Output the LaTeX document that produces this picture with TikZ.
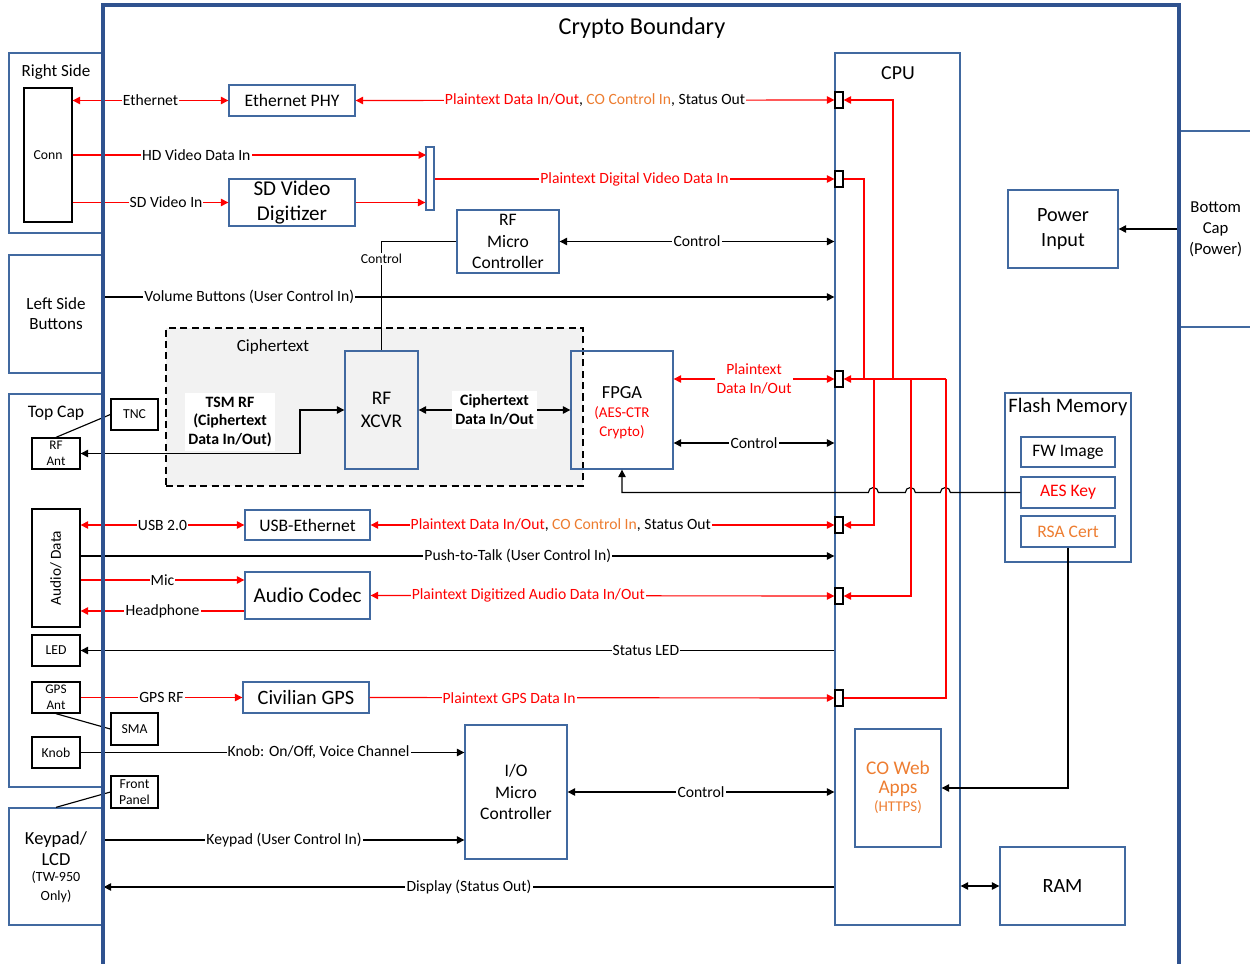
\documentclass[tikz,border=0pt]{standalone}
\usepackage{fontspec}
\setmainfont{Carlito}
\usetikzlibrary{arrows.meta,positioning}

\definecolor{boxblue}{RGB}{65,105,160}
\definecolor{bndblue}{RGB}{47,82,143}
\definecolor{coorange}{RGB}{237,125,49}
\definecolor{ciphgray}{RGB}{242,242,242}

\newcommand{\fsz}[2]{\fontsize{#1}{#2}\selectfont}

\tikzset{
  box/.style={draw=boxblue, line width=0.75pt, inner sep=1pt, align=center},
  sbox/.style={draw=black, line width=0.75pt, inner sep=1pt, align=center, font=\fsz{7.8}{9}},
  port/.style={draw=black, fill=white, line width=0.7pt, minimum width=0.16cm, minimum height=0.32cm, inner sep=0pt},
  sz/.style 2 args={minimum width=#1*0.02cm, minimum height=#2*0.02cm},
  lbl/.style={fill=white, inner sep=0.6pt, text=black, font=\fsz{8.9}{10.5}},
  wire/.style={line width=0.65pt},
  rwire/.style={wire, red},
}

\begin{document}
\begin{tikzpicture}[x=0.02cm, y=-0.02cm, >={Triangle[length=1.5mm,width=1.5mm]}]
  \useasboundingbox (0,0) rectangle (1250,963);
  \clip (0,0) rectangle (1250,963);

  \node[font=\fsz{13.8}{15}] (cbtitle) at (642,28) {Crypto Boundary};

  %% outside the boundary
  \node[box, sz={94}{180}] (rside) at (56,143) {};
  \node[font=\fsz{9.7}{11}] (rsidet) at (56,72) {Right Side};
  \node[sbox, sz={48}{134}] (conn) at (48,155) {Conn};
  \node[box, sz={94}{118}, font=\fsz{9.7}{11.5}] (lside) at (56,314) {Left Side\\Buttons};
  \node[box, sz={94}{393}] (tcap) at (56,590.5) {};
  \node[font=\fsz{10}{12}] (tcapt) at (56,413) {Top Cap};
  \node[sbox, sz={48}{31}, font=\fsz{7.5}{9}] (rfant) at (56,453.5) {RF\\Ant};
  \node[sbox, sz={47}{31}] (tnc) at (134.5,414.5) {TNC};
  \node[sbox, sz={48}{118}] (audio) at (56,568) {};
  \node[rotate=90, font=\fsz{8.7}{10}] (audiot) at (audio) {Audio/ Data};
  \node[sbox, sz={48}{31}] (led) at (56,650.5) {LED};
  \node[sbox, sz={48}{31}, font=\fsz{7.5}{9}] (gpsant) at (56,697.5) {GPS\\Ant};
  \node[sbox, sz={47}{32}] (sma) at (134.5,729) {SMA};
  \node[sbox, sz={48}{31}] (knob) at (56,752.5) {Knob};
  \node[sbox, sz={47}{32}, font=\fsz{7.8}{9.5}] (fpanel) at (134.5,792) {Front\\Panel};
  \node[box, sz={94}{117}] (keypad) at (56,866.5) {};
  \node[font=\fsz{10.5}{12}, align=center] (keypadt) at (56,848.5) {Keypad/\\LCD};
  \node[font=\fsz{8}{11.3}, align=center] (keypadn) at (56,887) {(TW-950\\Only)};
  \node[box, sz={72}{196}, anchor=west, font=\fsz{9.5}{12}] (bcap) at (1179,229) {Bottom\\Cap\\(Power)};

  %% inside the boundary
  \node[box, sz={126}{31}, font=\fsz{10}{12}] (ephy) at (292,100.5) {Ethernet PHY};
  \node[box, sz={8}{63}] (mux) at (430,178.5) {};
  \node[box, sz={126}{47}, font=\fsz{12}{14}] (sddig) at (292,202.5) {SD Video\\Digitizer};
  \node[box, sz={102}{63}, font=\fsz{10}{12}] (rfmc) at (508,241.5) {RF\\Micro\\Controller};

  \node[draw, line width=0.7pt, dash pattern=on 4pt off 2.5pt, fill=ciphgray, sz={417}{158}] (ctzone) at (374.5,407) {};
  \node[font=\fsz{9.7}{11}] (ctzonet) at (273,347) {Ciphertext};
  \node[box, sz={73}{118}, font=\fsz{11}{13}] (xcvr) at (381.5,410) {RF\\XCVR};
  \node[box, sz={102}{118}] (fpga) at (622,410) {};
  \node[font=\fsz{10.5}{12}] (fpgat) at (622,393) {FPGA};
  \node[text=red, font=\fsz{8.5}{10.8}, align=center] (fpgac) at (622,423) {(AES-CTR\\Crypto)};

  \node[box, sz={125}{872}] (cpu) at (897.5,489) {};
  \node[font=\fsz{11.3}{13}] (cput) at (898,73) {CPU};
  \node[port] (p1) at (839,100) {};
  \node[port] (p2) at (839,179) {};
  \node[port] (p3) at (839,379) {};
  \node[port] (p4) at (839,525) {};
  \node[port] (p5) at (839,596) {};
  \node[port] (p6) at (839,698) {};

  \node[box, sz={110}{78}, font=\fsz{11.5}{14}] (pwr) at (1063,229) {Power\\Input};
  \node[box, sz={126}{169}] (flash) at (1068,477.5) {};
  \node[font=\fsz{11.7}{13}] (flasht) at (1068,407) {Flash Memory};
  \node[box, sz={94}{30}, font=\fsz{10}{12}] (fw) at (1068,452) {FW Image};
  \node[box, sz={94}{31}, font=\fsz{10}{12}, text=red] (aes) at (1068,492.5) {AES Key};
  \node[box, sz={94}{31}, font=\fsz{10}{12}, text=coorange] (rsa) at (1068,531.5) {RSA Cert};

  \node[box, sz={125}{30}, font=\fsz{10}{12}] (usbeth) at (307.5,525) {USB-Ethernet};
  \node[box, sz={125}{47}, font=\fsz{12}{14}] (codec) at (307.5,595.5) {Audio Codec};
  \node[box, sz={126}{31}, font=\fsz{11.6}{14}] (gps) at (306,697.5) {Civilian GPS};
  \node[box, sz={102}{134}, font=\fsz{10}{12}] (iomc) at (516,792) {I/O\\Micro\\Controller};
  \node[box, sz={86}{118}] (coweb) at (898,788) {};
  \node[text=coorange, font=\fsz{11}{10.8}, align=center] (cowebt) at (898,779) {CO Web\\Apps};
  \node[text=coorange, font=\fsz{8.5}{10}] (cowebh) at (898,807) {(HTTPS)};
  \node[box, sz={125}{78}, font=\fsz{11.5}{14}] (ram) at (1062.5,886) {RAM};

  %% right side connector
  \draw[rwire,<->] (conn.east |- ephy.west) -- (ephy.west) node[lbl,pos=.5]{Ethernet};
  \draw[rwire,<->] (ephy.east) -- (p1.west) node[lbl,pos=.5]{\textcolor{red}{Plaintext Data In/Out}, \textcolor{coorange}{CO Control In}, Status Out};
  \coordinate (hdin) at (426,155);
  \draw[rwire,->] (conn.east |- hdin) -- (hdin) node[lbl,pos=.35]{HD Video Data In};
  \draw[rwire,->] (conn.east |- sddig.west) -- (sddig.west) node[lbl,pos=.6]{SD Video In};
  \draw[rwire,->] (sddig.east) -- (sddig.east -| mux.west);
  \draw[rwire,->] (mux.east |- p2.west) -- (p2.west) node[lbl,text=red,pos=.5]{Plaintext Digital Video Data In};

  %% rf micro and buttons
  \draw[wire] (rfmc.west) -| (xcvr.north) node[lbl,pos=.58,font=\fsz{7.8}{9}]{Control};
  \draw[wire,<->] (rfmc.east) -- (rfmc.east -| cpu.west) node[lbl,pos=.5]{Control};
  \coordinate (vol) at (103,297);
  \draw[wire,->] (vol) -- (vol -| cpu.west) node[lbl,pos=.2]{Volume Buttons (User Control In)};

  %% ciphertext side
  \coordinate (tsmbend) at (300,410);
  \draw[wire,<->] (rfant.east) -| (tsmbend) -- (xcvr.west);
  \node[lbl, font=\bfseries\fsz{9}{10.8}, align=center, inner sep=2pt] (tsmlbl) at (230,422) {TSM RF\\(Ciphertext\\Data In/Out)};
  \draw[wire,<->] (xcvr.east) -- (fpga.west) node[lbl,pos=.5,font=\bfseries\fsz{9}{10.8},align=center,inner sep=2pt]{Ciphertext\\Data In/Out};
  \draw[rwire,<->] (fpga.east |- p3.west) -- (p3.west) node[lbl,text=red,pos=.5,align=center,font=\fsz{8.9}{10.8}]{Plaintext\\Data In/Out};
  \coordinate (fctl) at ([yshift=-0.66cm]fpga.east);
  \draw[wire,<->] (fctl) -- (fctl -| cpu.west) node[lbl,pos=.5]{Control};

  %% key to fpga, hopping the red lines
  \draw[wire,->] (aes.west) -- ++(-70,0) arc[start angle=0,end angle=180,radius=0.1cm]
    -- ++(-25,0) arc[start angle=0,end angle=180,radius=0.1cm]
    -- ++(-27,0) arc[start angle=0,end angle=180,radius=0.1cm]
    -- (fpga.south |- aes.west) -- (fpga.south);
  \draw[wire,->] (rsa.south) |- (coweb.east);

  %% top cap
  \draw[rwire,<->] (audio.east |- usbeth.west) -- (usbeth.west) node[lbl,pos=.5]{USB 2.0};
  \draw[rwire,<->] (usbeth.east) -- (p4.west) node[lbl,pos=.41]{\textcolor{red}{Plaintext Data In/Out}, \textcolor{coorange}{CO Control In}, Status Out};
  \coordinate (ptt) at ([yshift=0.24cm]audio.east);
  \draw[wire,->] (ptt) -- (ptt -| cpu.west) node[lbl,pos=.58]{Push-to-Talk (User Control In)};
  \coordinate (micin) at ([yshift=0.31cm]codec.west);
  \coordinate (hpout) at ([yshift=-0.31cm]codec.west);
  \draw[rwire,->] (audio.east |- micin) -- (micin) node[lbl,pos=.5]{Mic};
  \draw[rwire,->] (hpout) -- (audio.east |- hpout) node[lbl,pos=.5]{Headphone};
  \draw[rwire,<->] (codec.east) -- (p5.west) node[lbl,text=red,pos=.34]{Plaintext Digitized Audio Data In/Out};
  \draw[wire,->] (led.east -| cpu.west) -- (led.east) node[lbl,pos=.25]{Status LED};
  \draw[rwire,->] (gpsant.east) -- (gps.west) node[lbl,pos=.5]{GPS RF};
  \draw[rwire,->] (gps.east) -- (p6.west) node[lbl,text=red,pos=.3]{Plaintext GPS Data In};
  \draw[wire,->] (knob.east) -- (knob.east -| iomc.west) node[lbl,pos=.62]{Knob: On/Off, Voice Channel};
  \draw[wire,<->] (iomc.east) -- (iomc.east -| cpu.west) node[lbl,pos=.5]{Control};

  %% keypad, ram, power
  \coordinate (kpin) at ([yshift=0.53cm]keypad.east);
  \coordinate (dspout) at ([yshift=-0.41cm]keypad.east);
  \draw[wire,->] (kpin) -- (kpin -| iomc.west) node[lbl,pos=.5]{Keypad (User Control In)};
  \draw[wire,->] (dspout -| cpu.west) -- (dspout) node[lbl,pos=.5]{Display (Status Out)};
  \draw[wire,<->] (ram.west) -- (ram.west -| cpu.east);
  \draw[wire,->] (bcap.west) -- (pwr.east);

  %% cable ties to the outside connectors
  \draw[wire] (rfant.north) -- (tnc.west);
  \draw[wire] (gpsant.south) -- (sma.west);
  \draw[wire] (keypad.north) -- (fpanel.west);

  %% plaintext bus inside the cpu
  \coordinate (j1) at (864,379);
  \coordinate (j2) at (874,379);
  \coordinate (j3) at (893,379);
  \coordinate (j4) at (911,379);
  \coordinate (j5) at (946,379);
  \draw[rwire] (p2.east) -| (j1);
  \draw[rwire,<-] (p1.east) -| (j3);
  \draw[rwire,<-] (p3.east) -- (j5);
  \draw[rwire,<-] (p4.east) -| (j2);
  \draw[rwire,<-] (p5.east) -| (j4);
  \draw[rwire] (p6.east) -| (j5);

  %% crypto boundary
  \draw[bndblue, line width=2.2pt] (103,990) -- (103,5) -- (1179,5) -- (1179,990);
\end{tikzpicture}
\end{document}
